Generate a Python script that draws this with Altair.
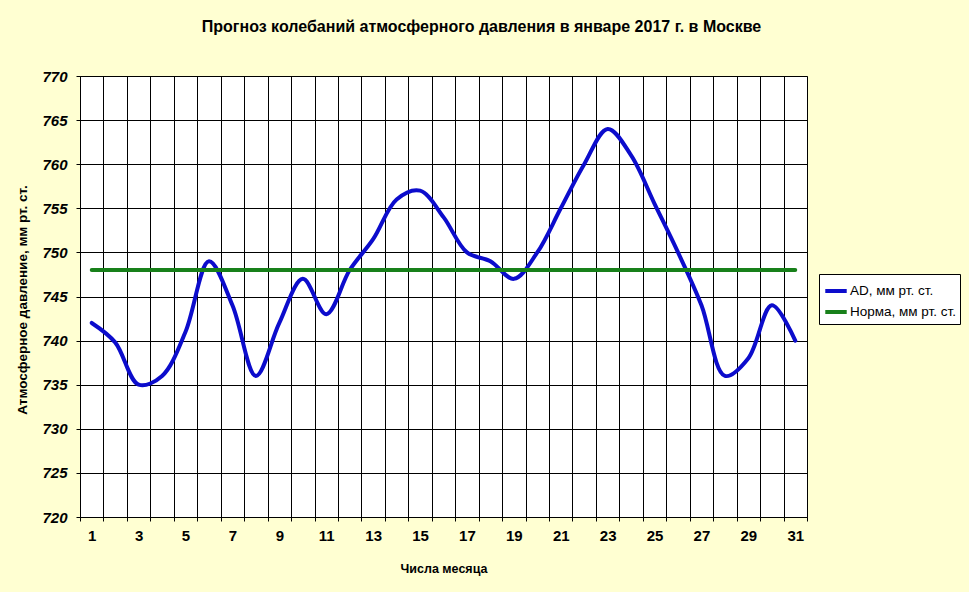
import altair as alt
import pandas as pd

days = list(range(1, 32))
ad = [742, 739.8, 735, 736, 741, 749, 744, 736, 742, 747,
      743, 748, 751.5, 756, 757, 754, 750, 749, 747, 750,
      755, 760, 764, 761, 755.5, 750, 744, 736, 738, 744, 740]
norm = [748, 748, 748, 748, 748, 748, 748, 748, 748, 748,
        748, 748, 748, 748, 748, 748, 748, 748, 748, 748,
        748, 748, 748, 748, 748, 748, 748, 748, 748, 748, 748]
series_names = ["AD, мм рт. ст.", "Норма, мм рт. ст."]
series_colors = ["#0C0CCC", "#18801A"]
y_ticks = [720, 725, 730, 735, 740, 745, 750, 755, 760, 765, 770]
x_bounds = [d - 0.5 for d in days] + [31.5]

title_text = "Прогноз колебаний атмосферного давления в январе 2017 г. в Москве"
x_title = "Числа месяца"
y_title = "Атмосферное давление, мм рт. ст."

rows = []
for d, a, n in zip(days, ad, norm):
    rows.append({"day": d, "value": a, "series": series_names[0]})
    rows.append({"day": d, "value": n, "series": series_names[1]})
df = pd.DataFrame(rows)

W, H = 727, 441
FONT = "Arial, Liberation Sans, sans-serif"

chart = alt.Chart(df).mark_line(
    strokeWidth=4, interpolate="catmull-rom", strokeCap="round"
).encode(
    x=alt.X(
        "day:Q",
        scale=alt.Scale(domain=[0.5, 31.5], nice=False, zero=False),
        axis=alt.Axis(
            values=x_bounds,
            labelExpr="((datum.value + 0.5) % 2 == 1 && datum.value < 31) ? format(datum.value + 0.5, 'd') : ''",
            labelOffset=W / 31 / 2,
            labelFlush=False,
            labelOverlap=False,
            labelFont=FONT, labelFontSize=15, labelFontWeight="bold", labelColor="black",
            labelPadding=7, labelBaseline="top",
            tickSize=4, tickColor="black", tickWidth=1,
            grid=True, gridColor="black", gridOpacity=1, gridWidth=1,
            domainColor="black", domainWidth=1,
            title=x_title, titleFont=FONT, titleFontSize=12.5, titleFontWeight="bold",
            titleColor="black", titleBaseline="middle", titleY=51,
        ),
    ),
    y=alt.Y(
        "value:Q",
        scale=alt.Scale(domain=[720, 770], nice=False, zero=False),
        axis=alt.Axis(
            values=y_ticks, format="d",
            labelFont=FONT, labelFontSize=15, labelFontWeight="bold", labelFontStyle="italic",
            labelColor="black", labelPadding=9,
            tickSize=4, tickColor="black",
            grid=True, gridColor="black", gridOpacity=1, gridWidth=1,
            domainColor="black", domainWidth=1,
            title=y_title, titleFont=FONT, titleFontSize=13.5, titleFontWeight="bold",
            titleColor="black", titleBaseline="middle", titleX=-58, titleY=H / 2 + 3,
        ),
    ),
    color=alt.Color(
        "series:N",
        scale=alt.Scale(domain=series_names, range=series_colors),
        legend=alt.Legend(
            title=None, orient="none", legendX=739, legendY=198,
            symbolType="stroke", symbolStrokeWidth=4, symbolSize=460,
            labelFont=FONT, labelFontSize=13.5, labelColor="black", labelOffset=1,
            strokeColor="black", fillColor="white", padding=4, rowPadding=-3,
        ),
    ),
).properties(
    width=W, height=H,
    title=alt.TitleParams(
        title_text, font=FONT, fontSize=16, fontWeight="bold", color="black",
        anchor="middle", dx=38, offset=21, baseline="alphabetic",
    ),
    background="#FFFFD2",
    padding={"left": 80, "top": 76, "right": 162, "bottom": 75},
    autosize=alt.AutoSizeParams(type="none"),
).configure_view(
    fill="white", stroke="#808080", strokeWidth=1
)

chart.save("out.html", embed_options={"renderer": "svg", "actions": False})
